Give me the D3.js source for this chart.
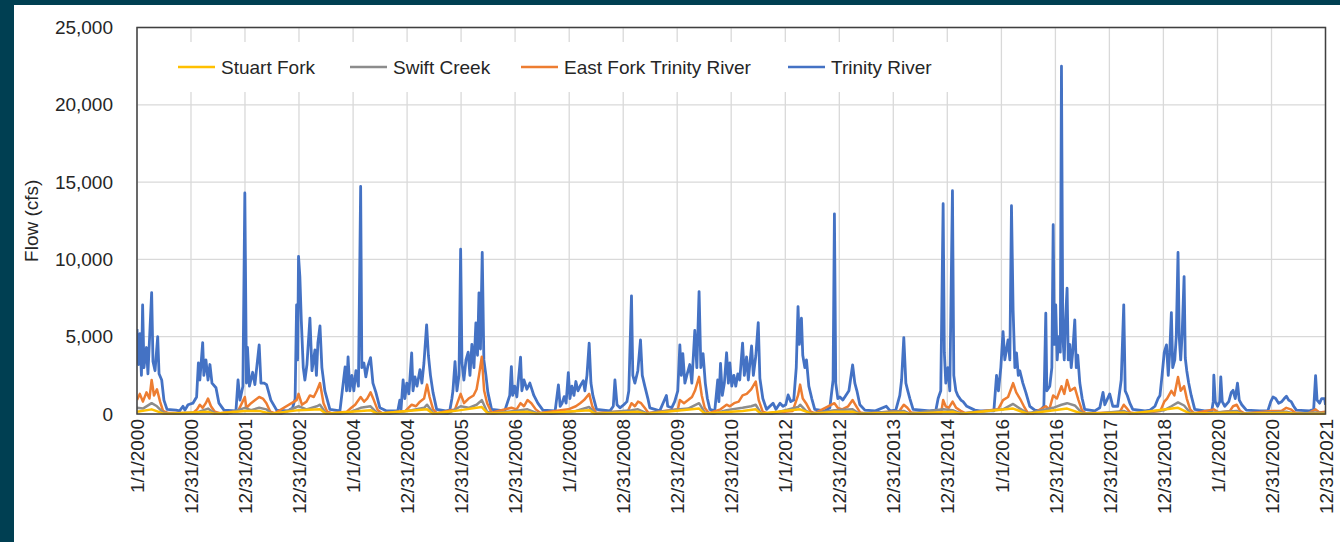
<!DOCTYPE html>
<html>
<head>
<meta charset="utf-8">
<script src="https://cdn.jsdelivr.net/npm/d3@7"></script>
<style>
  body { margin: 0; background: #003f52; }
  svg { display: block; font-family: "Liberation Sans", Arial, sans-serif; }
</style>
</head>
<body>
<svg id="chart" width="1340" height="542"></svg>
<script>
// daily flows as [date, cfs] pairs (peaks and troughs only)
const trinityRiver = [
  ['2000-01-01',5500],['2000-01-11',3200],['2000-01-21',5200],['2000-01-31',2500],['2000-02-08',7050],['2000-02-17',3000],['2000-03-05',4300],['2000-03-15',2600],['2000-04-09',7850],['2000-04-18',3400],['2000-05-02',2800],['2000-05-20',5000],['2000-05-29',2600],['2000-06-16',2200],['2000-07-01',900],['2000-07-22',300],['2000-09-21',250],['2000-10-15',200],['2000-11-07',500],['2000-11-20',250],['2000-12-11',600],
  ['2001-01-13',700],['2001-02-07',1100],['2001-02-19',3300],['2001-03-01',2200],['2001-03-20',4620],['2001-03-28',2500],['2001-04-11',3500],['2001-04-25',2200],['2001-05-08',3200],['2001-05-22',2000],['2001-06-18',1700],['2001-07-08',700],['2001-08-11',250],['2001-10-31',200],['2001-11-14',2200],['2001-11-27',900],['2001-12-17',1800],['2001-12-30',14300],
  ['2002-01-10',2000],['2002-01-17',4300],['2002-01-30',1800],['2002-02-21',2700],['2002-03-08',1900],['2002-04-06',4470],['2002-04-18',2000],['2002-05-08',2000],['2002-05-26',1900],['2002-06-24',900],['2002-08-02',250],['2002-10-17',200],['2002-11-18',400],['2002-12-05',1000],['2002-12-15',7060],['2002-12-22',3500],['2002-12-28',10190],
  ['2003-01-06',8890],['2003-01-16',6000],['2003-01-29',3000],['2003-02-09',2200],['2003-02-23',3200],['2003-03-15',6200],['2003-03-29',2800],['2003-04-18',4150],['2003-04-28',2500],['2003-05-08',4600],['2003-05-22',5700],['2003-06-04',3000],['2003-06-24',1500],['2003-07-28',300],['2003-10-04',200],['2003-11-08',3050],['2003-11-18',1500],['2003-11-28',3700],['2003-12-10',1500],['2003-12-24',2500],
  ['2004-01-06',1500],['2004-01-20',2800],['2004-02-06',1800],['2004-02-21',14720],['2004-02-29',3000],['2004-03-14',3300],['2004-03-27',2400],['2004-04-10',3100],['2004-04-28',3650],['2004-05-14',2000],['2004-06-03',1400],['2004-06-30',400],['2004-08-15',200],['2004-10-29',200],['2004-11-12',900],['2004-11-20',300],['2004-12-04',2200],['2004-12-16',1000],['2004-12-29',2000],
  ['2005-01-12',1300],['2005-01-31',3950],['2005-02-09',1500],['2005-02-22',2400],['2005-03-08',1800],['2005-03-28',2870],['2005-04-10',2000],['2005-04-24',3300],['2005-05-12',5760],['2005-05-24',3800],['2005-06-07',2500],['2005-06-24',1400],['2005-07-19',300],['2005-09-19',200],['2005-10-16',250],['2005-10-30',1000],['2005-11-06',1500],['2005-11-20',3390],['2005-12-03',1500],['2005-12-17',2500],['2005-12-28',10660],
  ['2006-01-06',3300],['2006-01-19',2200],['2006-02-02',3500],['2006-02-17',4000],['2006-03-01',2500],['2006-03-14',4500],['2006-03-28',3000],['2006-04-10',5890],['2006-04-21',3800],['2006-05-01',7840],['2006-05-11',4200],['2006-05-23',10450],['2006-06-03',3500],['2006-06-17',2500],['2006-06-30',1400],['2006-07-25',300],['2006-10-22',200],['2006-11-25',1200],['2006-12-06',3070],['2006-12-15',1200],['2006-12-29',1800],
  ['2007-01-12',1100],['2007-02-06',3680],['2007-02-15',1500],['2007-03-01',2200],['2007-03-21',1600],['2007-04-10',2000],['2007-05-07',1200],['2007-06-03',700],['2007-07-07',250],['2007-09-28',200],['2007-10-20',1880],['2007-11-01',500],['2007-11-14',700],['2007-11-28',1120],['2007-12-11',700],['2007-12-26',2680],
  ['2008-01-06',1000],['2008-01-19',1800],['2008-02-02',1200],['2008-02-15',2100],['2008-02-29',1500],['2008-03-20',1900],['2008-04-05',2150],['2008-04-16',1500],['2008-04-30',2500],['2008-05-15',4580],['2008-05-27',2000],['2008-06-09',1200],['2008-07-04',300],['2008-10-03',200],['2008-10-25',500],['2008-11-05',2200],['2008-11-19',600],['2008-12-09',400],
  ['2009-01-04',600],['2009-01-25',800],['2009-02-07',1500],['2009-02-25',7640],['2009-03-06',2500],['2009-03-20',2000],['2009-04-09',2800],['2009-04-27',4790],['2009-05-09',2500],['2009-05-26',1800],['2009-06-16',1000],['2009-06-29',400],['2009-09-04',200],['2009-10-19',1200],['2009-10-28',500],['2009-11-24',400],['2009-12-14',800],
  ['2010-01-04',1500],['2010-01-18',4470],['2010-01-28',2500],['2010-02-07',3900],['2010-02-21',2000],['2010-03-06',2500],['2010-03-26',3200],['2010-04-09',2000],['2010-04-29',5400],['2010-05-13',3000],['2010-05-28',7920],['2010-06-09',3000],['2010-06-24',3900],['2010-07-09',2000],['2010-07-23',1000],['2010-08-09',300],['2010-09-11',200],['2010-10-01',2200],['2010-10-09',800],['2010-10-20',3280],['2010-11-01',1200],['2010-11-15',2000],['2010-11-30',3960],['2010-12-12',2000],['2010-12-22',3300],
  ['2011-01-04',1800],['2011-01-18',2500],['2011-01-31',1800],['2011-02-14',2600],['2011-02-27',2200],['2011-03-18',4580],['2011-03-30',2500],['2011-04-14',3700],['2011-04-26',2200],['2011-05-18',4400],['2011-05-30',2500],['2011-06-16',3800],['2011-07-02',5910],['2011-07-13',2310],['2011-08-02',1000],['2011-08-27',300],['2011-10-10',700],['2011-10-30',300],['2011-11-26',700],['2011-12-16',500],
  ['2012-01-04',600],['2012-01-20',1230],['2012-02-07',800],['2012-02-27',900],['2012-03-15',3000],['2012-03-27',6950],['2012-04-05',4500],['2012-04-19',6200],['2012-04-28',3800],['2012-05-12',3000],['2012-05-23',3500],['2012-06-08',1800],['2012-06-28',1000],['2012-07-18',300],['2012-09-24',200],['2012-10-28',400],['2012-11-19',2200],['2012-11-28',12950],['2012-12-07',2000],['2012-12-21',1000],
  ['2013-01-04',1100],['2013-01-24',900],['2013-02-13',1200],['2013-03-06',1500],['2013-03-31',3170],['2013-04-15',2000],['2013-04-29',1500],['2013-05-19',600],['2013-06-22',250],['2013-09-01',200],['2013-11-14',500],['2013-12-10',200],
  ['2014-01-17',250],['2014-02-13',1200],['2014-02-25',2200],['2014-03-12',4940],['2014-03-26',2000],['2014-04-08',1500],['2014-04-22',1000],['2014-05-14',300],['2014-09-04',200],['2014-10-15',250],['2014-10-30',1000],['2014-11-17',1500],['2014-12-03',13600],['2014-12-11',4000],['2014-12-21',2000],
  ['2015-01-04',3000],['2015-01-17',1500],['2015-02-04',14440],['2015-02-13',2500],['2015-02-27',1500],['2015-03-12',1200],['2015-04-02',900],['2015-04-17',800],['2015-05-12',500],['2015-07-05',250],['2015-08-08',200],['2015-11-11',200],['2015-11-29',2500],['2015-12-12',1500],['2015-12-28',3000],
  ['2016-01-12',5330],['2016-01-24',3500],['2016-02-15',4800],['2016-02-27',3500],['2016-03-09',13470],['2016-03-20',6740],['2016-04-01',3000],['2016-04-12',3950],['2016-04-24',2500],['2016-05-04',2800],['2016-05-25',2000],['2016-06-14',1400],['2016-07-11',500],['2016-08-14',250],['2016-09-17',200],['2016-10-14',500],['2016-10-27',6520],['2016-11-03',1500],['2016-11-23',1800],['2016-12-07',3000],['2016-12-16',12240],['2016-12-24',4500],
  ['2017-01-02',7060],['2017-01-12',3500],['2017-01-23',5000],['2017-02-02',4000],['2017-02-10',22500],['2017-02-19',5000],['2017-03-01',3500],['2017-03-08',5800],['2017-03-20',8140],['2017-03-28',3500],['2017-04-07',4500],['2017-04-17',3000],['2017-04-27',4000],['2017-05-11',6090],['2017-05-21',3000],['2017-05-31',3800],['2017-06-14',2000],['2017-06-30',1000],['2017-07-17',300],['2017-09-23',200],['2017-10-27',400],['2017-11-18',1400],['2017-11-30',600],
  ['2018-01-02',1300],['2018-01-23',500],['2018-02-25',500],['2018-03-21',2200],['2018-04-07',7060],['2018-04-17',1500],['2018-05-01',1200],['2018-05-18',700],['2018-06-07',300],['2018-08-29',200],['2018-10-02',250],['2018-11-04',500],['2018-11-25',1000],['2018-12-08',1200],['2018-12-22',2500],
  ['2019-01-06',4000],['2019-01-21',4470],['2019-02-02',2500],['2019-02-12',4000],['2019-02-23',6560],['2019-03-04',3000],['2019-03-18',3500],['2019-03-28',5000],['2019-04-09',10450],['2019-04-17',5000],['2019-04-27',3500],['2019-05-07',5200],['2019-05-20',8890],['2019-05-28',3620],['2019-06-07',2800],['2019-06-20',2000],['2019-07-07',1200],['2019-07-31',300],['2019-10-07',200],['2019-11-23',200],['2019-12-03',800],['2019-12-07',2510],['2019-12-17',800],
  ['2020-01-02',500],['2020-01-16',800],['2020-01-23',2400],['2020-02-02',800],['2020-02-19',500],['2020-03-17',800],['2020-04-03',1400],['2020-04-15',1530],['2020-04-30',1000],['2020-05-15',1990],['2020-05-27',900],['2020-06-13',600],['2020-07-14',250],['2020-10-13',200],['2020-12-06',200],['2020-12-26',800],
  ['2021-01-10',1100],['2021-01-28',1000],['2021-02-17',700],['2021-03-10',800],['2021-03-27',1000],['2021-04-11',1150],['2021-04-26',900],['2021-05-13',800],['2021-05-30',500],['2021-06-17',250],['2021-09-15',200],['2021-10-12',300],['2021-10-25',2480],['2021-11-04',900],['2021-11-21',700],['2021-12-05',1000],['2021-12-25',1000],['2021-12-31',600]
]

const eastForkTrinity = [
  ['2000-01-01',900],['2000-01-20',1300],['2000-02-10',800],['2000-03-05',1400],['2000-03-25',1000],['2000-04-09',2200],['2000-04-25',1200],['2000-05-15',1600],['2000-06-05',800],['2000-06-25',200],['2000-08-01',60],
  ['2001-01-15',80],['2001-02-10',300],['2001-03-01',600],['2001-03-20',400],['2001-04-10',700],['2001-04-25',1000],['2001-05-15',500],['2001-06-10',150],['2001-07-15',50],
  ['2001-11-15',200],['2001-12-30',1100],['2002-01-10',400],['2002-02-10',700],['2002-03-10',900],['2002-04-06',1100],['2002-05-01',1000],['2002-05-25',700],['2002-06-20',150],['2002-07-20',50],
  ['2002-12-15',900],['2002-12-28',1300],['2003-01-20',600],['2003-02-20',800],['2003-03-15',1200],['2003-04-10',1100],['2003-05-01',1500],['2003-05-22',2000],['2003-06-15',700],['2003-07-10',150],['2003-08-10',50],
  ['2003-11-20',150],['2003-12-20',400],['2004-01-15',600],['2004-02-21',1100],['2004-03-15',800],['2004-04-05',1000],['2004-04-28',1400],['2004-05-20',900],['2004-06-15',250],['2004-07-15',50],
  ['2004-12-20',200],['2005-01-31',600],['2005-03-01',500],['2005-03-28',800],['2005-04-25',1000],['2005-05-15',1900],['2005-06-01',1100],['2005-06-25',300],['2005-07-20',50],
  ['2005-11-20',300],['2005-12-28',1300],['2006-01-20',700],['2006-02-20',1000],['2006-03-25',1200],['2006-04-15',1600],['2006-05-01',2500],['2006-05-20',3700],['2006-06-05',1500],['2006-06-25',700],['2006-07-25',80],
  ['2006-12-06',400],['2007-01-10',300],['2007-02-06',700],['2007-03-01',500],['2007-03-25',900],['2007-04-20',700],['2007-05-20',300],['2007-06-20',60],
  ['2007-12-26',300],['2008-02-15',500],['2008-03-15',700],['2008-04-10',900],['2008-05-15',1300],['2008-06-05',500],['2008-07-01',60],
  ['2009-02-01',200],['2009-02-25',700],['2009-03-20',500],['2009-04-10',800],['2009-05-01',700],['2009-05-25',400],['2009-06-20',60],
  ['2010-01-05',300],['2010-01-18',900],['2010-02-15',700],['2010-03-15',900],['2010-04-10',1100],['2010-04-30',1500],['2010-05-28',2400],['2010-06-15',1200],['2010-07-05',400],['2010-08-01',60],
  ['2010-10-20',300],['2010-11-30',600],['2010-12-22',500],['2011-01-20',700],['2011-02-20',800],['2011-03-18',1200],['2011-04-15',1300],['2011-05-15',1600],['2011-06-15',2100],['2011-07-05',900],['2011-08-01',150],['2011-09-01',50],
  ['2012-02-20',200],['2012-03-27',1200],['2012-04-10',1900],['2012-04-28',1000],['2012-05-20',700],['2012-06-20',150],['2012-07-20',50],
  ['2012-11-28',700],['2012-12-20',400],['2013-01-20',300],['2013-03-01',500],['2013-03-31',900],['2013-04-25',500],['2013-05-20',100],['2013-07-01',40],
  ['2014-02-10',200],['2014-03-12',600],['2014-04-05',400],['2014-05-01',100],['2014-07-01',40],
  ['2014-11-20',100],['2014-12-03',900],['2014-12-20',500],['2015-01-10',400],['2015-02-05',800],['2015-03-01',400],['2015-04-01',200],['2015-05-01',50],
  ['2015-12-10',300],['2016-01-12',900],['2016-02-15',1100],['2016-03-09',1700],['2016-03-20',2000],['2016-04-10',1400],['2016-05-05',1000],['2016-06-01',500],['2016-06-25',100],['2016-08-01',40],
  ['2016-10-27',500],['2016-11-20',300],['2016-12-16',1200],['2017-01-10',1000],['2017-02-10',1800],['2017-03-01',1300],['2017-03-20',2200],['2017-04-10',1500],['2017-05-11',1700],['2017-06-05',900],['2017-06-30',200],['2017-07-25',50],
  ['2018-03-10',100],['2018-04-07',600],['2018-04-25',400],['2018-05-20',100],['2018-07-01',40],
  ['2018-12-10',200],['2019-01-06',800],['2019-01-25',1000],['2019-02-23',1500],['2019-03-15',1200],['2019-04-09',2400],['2019-04-27',1500],['2019-05-20',1800],['2019-06-07',1000],['2019-06-30',300],['2019-07-25',50],
  ['2019-12-07',300],['2020-01-10',100],['2020-03-25',200],['2020-04-15',500],['2020-05-10',600],['2020-06-01',200],['2020-07-01',40],
  ['2021-01-10',200],['2021-03-10',200],['2021-04-10',400],['2021-05-10',300],['2021-06-10',80],['2021-09-01',30],['2021-10-25',300],['2021-11-20',100],['2021-12-31',150]
]

const swiftCreek = [
  ['2000-01-01',400],['2000-02-10',350],['2000-04-09',700],['2000-05-15',500],['2000-06-25',100],['2000-08-01',20],
  ['2001-02-10',100],['2001-04-25',350],['2001-06-10',50],['2001-09-01',15],
  ['2001-12-30',400],['2002-02-10',250],['2002-04-06',400],['2002-05-25',300],['2002-06-25',50],['2002-09-01',15],
  ['2002-12-28',500],['2003-02-20',300],['2003-05-01',500],['2003-05-22',600],['2003-07-01',50],['2003-10-01',15],
  ['2003-12-20',150],['2004-02-21',400],['2004-04-28',500],['2004-06-10',80],['2004-09-01',15],
  ['2005-01-31',250],['2005-04-25',400],['2005-05-15',600],['2005-06-25',60],['2005-10-01',15],
  ['2005-12-28',500],['2006-02-20',400],['2006-04-15',600],['2006-05-20',900],['2006-06-25',150],['2006-07-30',30],
  ['2007-02-06',250],['2007-03-25',300],['2007-05-20',80],['2007-09-01',15],
  ['2008-02-15',200],['2008-05-15',450],['2008-06-25',40],
  ['2009-02-25',250],['2009-04-10',300],['2009-06-10',40],
  ['2010-01-18',300],['2010-03-15',350],['2010-05-28',700],['2010-07-05',100],['2010-09-01',20],
  ['2010-11-30',250],['2011-03-18',400],['2011-05-15',500],['2011-06-15',600],['2011-07-20',60],['2011-10-01',15],
  ['2012-03-27',450],['2012-04-10',600],['2012-05-20',200],['2012-06-30',30],
  ['2012-11-28',250],['2013-03-31',300],['2013-05-10',40],
  ['2014-03-12',200],['2014-04-20',30],
  ['2014-12-03',300],['2015-02-05',250],['2015-04-01',40],
  ['2016-01-12',300],['2016-03-20',650],['2016-05-05',350],['2016-06-25',40],
  ['2016-12-16',400],['2017-02-10',600],['2017-03-20',700],['2017-05-11',550],['2017-06-30',60],['2017-10-01',15],
  ['2018-04-07',200],['2018-05-20',30],
  ['2019-01-06',250],['2019-02-23',500],['2019-04-09',750],['2019-05-20',550],['2019-06-30',80],['2019-10-01',15],
  ['2019-12-07',100],['2020-05-10',200],['2020-06-20',20],
  ['2021-04-10',150],['2021-06-10',20],['2021-10-25',100],['2021-12-31',50]
]

const stuartFork = [
  ['2000-01-01',150],['2000-04-09',300],['2000-06-25',40],['2000-08-01',10],
  ['2001-04-25',150],['2001-06-10',10],
  ['2001-12-30',200],['2002-04-06',200],['2002-06-25',15],
  ['2002-12-28',250],['2003-05-22',300],['2003-07-01',15],
  ['2004-02-21',200],['2004-04-28',250],['2004-06-10',20],
  ['2005-05-15',300],['2005-06-25',20],
  ['2005-12-28',250],['2006-05-20',450],['2006-07-01',30],
  ['2007-03-25',150],['2007-05-20',15],
  ['2008-05-15',250],['2008-06-25',10],
  ['2009-04-10',150],['2009-06-10',10],
  ['2010-05-28',350],['2010-07-05',30],
  ['2011-03-18',200],['2011-06-15',300],['2011-07-20',20],
  ['2012-04-10',300],['2012-06-30',10],
  ['2012-11-28',150],['2013-03-31',150],['2013-05-10',10],
  ['2014-03-12',100],['2014-04-20',10],
  ['2015-02-05',150],['2015-04-01',10],
  ['2016-03-20',350],['2016-06-25',15],
  ['2017-02-10',300],['2017-03-20',350],['2017-06-30',20],
  ['2018-04-07',100],['2018-05-20',10],
  ['2019-04-09',400],['2019-06-30',30],
  ['2020-05-10',100],['2020-06-20',10],
  ['2021-04-10',80],['2021-06-10',10],['2021-12-31',20]
]

const seriesNames = ['Stuart Fork', 'Swift Creek', 'East Fork Trinity River', 'Trinity River']
const seriesColors = ['#ffc000', '#8c8c8c', '#ed7d31', '#4472c4']
const seriesData = [stuartFork, swiftCreek, eastForkTrinity, trinityRiver]

const yTicks = [0, 5000, 10000, 15000, 20000, 25000]
const xTickLabels = ['1/1/2000','12/31/2000','12/31/2001','12/31/2002','1/1/2004','12/31/2004','12/31/2005',
  '12/31/2006','1/1/2008','12/31/2008','12/31/2009','12/31/2010','1/1/2012','12/31/2012','12/31/2013',
  '12/31/2014','1/1/2016','12/31/2016','12/31/2017','12/31/2018','1/1/2020','12/31/2020','12/31/2021']

const svg = d3.select('#chart')
const W = 1340, H = 542
const plot = {left: 137, right: 1325.5, top: 27.5, bottom: 414}
// where each legend entry starts (line then label)
const legendX = [178, 350, 521, 788]

const parseIso = d3.timeParse('%Y-%m-%d')
const parseLabel = d3.timeParse('%m/%d/%Y')

const x = d3.scaleTime()
  .domain([parseIso('2000-01-01'), parseIso('2021-12-31')])
  .range([plot.left, plot.right])
const y = d3.scaleLinear()
  .domain([0, 25000])
  .range([plot.bottom, plot.top])

// background + white chart card
svg.append('rect').attr('width', W).attr('height', H).attr('fill', '#003f52')
svg.append('rect').attr('x', 14).attr('y', 5).attr('width', W - 14).attr('height', H - 5).attr('fill', '#fff')

// gridlines
const grid = svg.append('g').attr('stroke', '#d9d9d9').attr('stroke-width', 1.3)
grid.selectAll('.hgrid').data(yTicks).join('line')
  .attr('x1', plot.left).attr('x2', plot.right)
  .attr('y1', d => y(d)).attr('y2', d => y(d))
grid.selectAll('.vgrid').data(xTickLabels).join('line')
  .attr('x1', d => x(parseLabel(d))).attr('x2', d => x(parseLabel(d)))
  .attr('y1', plot.top).attr('y2', plot.bottom)

// y axis
const yAxis = svg.append('g')
  .attr('transform', `translate(${plot.left},0)`)
  .call(d3.axisLeft(y).tickValues(yTicks).tickFormat(d3.format(',')).tickSize(0).tickPadding(24))
yAxis.select('.domain').remove()
yAxis.selectAll('text').attr('font-size', 19).attr('fill', '#262626')
  .attr('font-family', '"Liberation Sans", Arial, sans-serif')

// x axis, labels rotated
const xAxis = svg.append('g')
  .attr('transform', `translate(0,${plot.bottom})`)
  .call(d3.axisBottom(x).tickValues(xTickLabels.map(parseLabel))
    .tickFormat(d3.timeFormat('%-m/%-d/%Y')).tickSize(0))
xAxis.select('.domain').remove()
xAxis.selectAll('text')
  .attr('font-size', 19).attr('fill', '#262626')
  .attr('font-family', '"Liberation Sans", Arial, sans-serif')
  .attr('text-anchor', 'end')
  .attr('transform', 'rotate(-90)')
  .attr('x', -5).attr('y', 0).attr('dy', '0.35em')

// axis title
svg.append('text')
  .attr('transform', `translate(38,${(plot.top + plot.bottom) / 2}) rotate(-90)`)
  .attr('text-anchor', 'middle')
  .attr('font-size', 19).attr('fill', '#262626')
  .text('Flow (cfs)')

// lines
svg.append('clipPath').attr('id', 'plotClip')
  .append('rect')
  .attr('x', plot.left).attr('y', plot.top)
  .attr('width', plot.right - plot.left).attr('height', plot.bottom - plot.top + 2)

const line = d3.line()
  .x(d => x(parseIso(d[0])))
  .y(d => y(d[1]))

const lines = svg.append('g').attr('clip-path', 'url(#plotClip)')
// draw Trinity first so the smaller creeks sit on top
d3.range(seriesData.length).reverse().forEach(i => {
  lines.append('path')
    .attr('d', line(seriesData[i]))
    .attr('fill', 'none')
    .attr('stroke', seriesColors[i])
    .attr('stroke-width', i === 3 ? 2.8 : 2.5)
    .attr('stroke-linejoin', 'round')
})

// plot frame
svg.append('rect')
  .attr('x', plot.left).attr('y', plot.top)
  .attr('width', plot.right - plot.left).attr('height', plot.bottom - plot.top)
  .attr('fill', 'none').attr('stroke', '#404040').attr('stroke-width', 1.5)

// legend, white box hides the gridlines behind it
const legend = svg.append('g')
legend.append('rect').attr('x', 160).attr('y', 42).attr('width', 815).attr('height', 50).attr('fill', '#fff')
seriesNames.forEach((name, i) => {
  const lx = legendX[i]
  legend.append('line')
    .attr('x1', lx).attr('x2', lx + 37).attr('y1', 67).attr('y2', 67)
    .attr('stroke', seriesColors[i]).attr('stroke-width', 2.6)
  legend.append('text')
    .attr('x', lx + 43).attr('y', 67).attr('dy', '0.35em')
    .attr('font-size', 19).attr('fill', '#262626')
    .text(name)
})
</script>
</body>
</html>
